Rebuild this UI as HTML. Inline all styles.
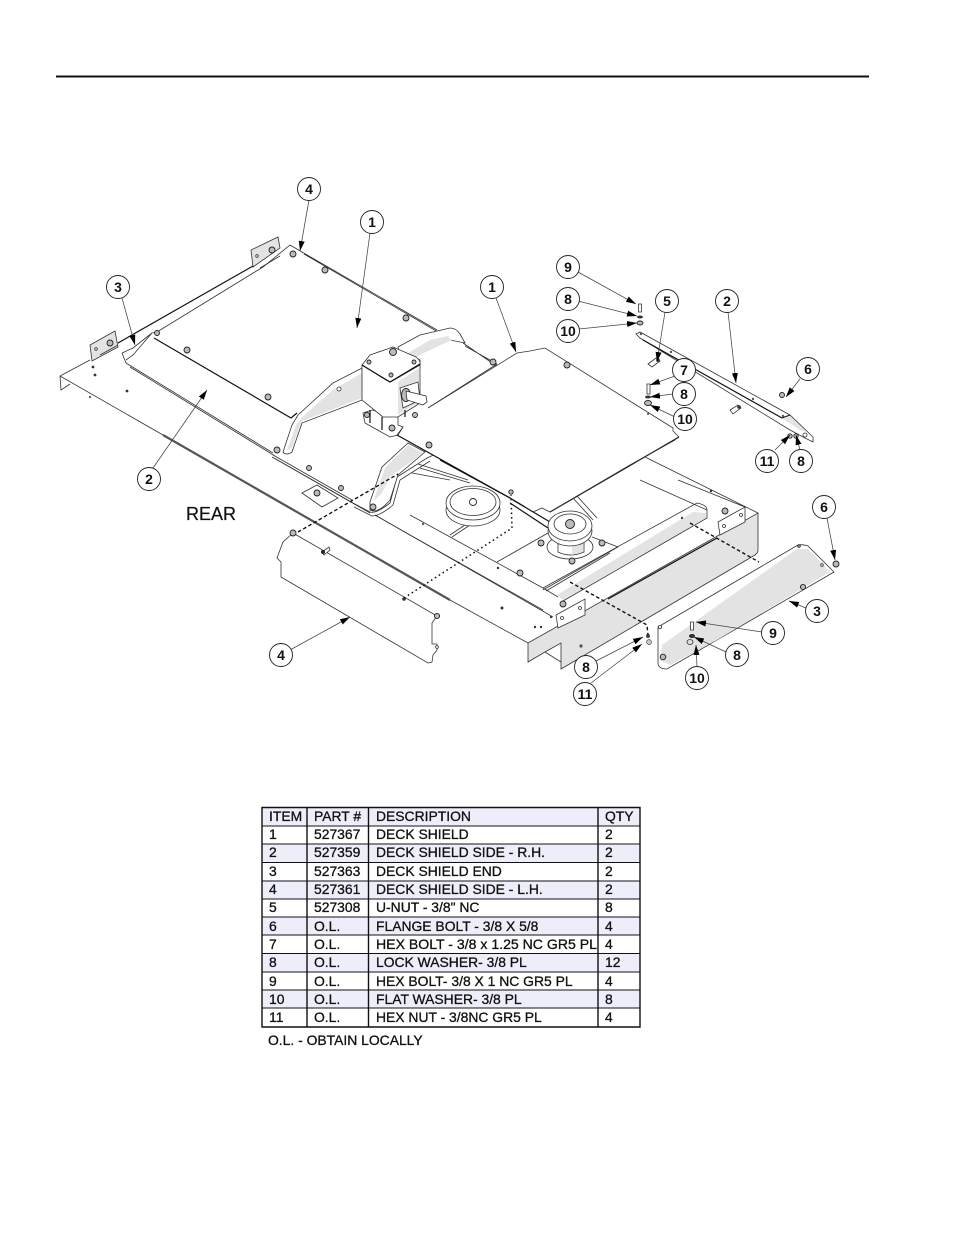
<!DOCTYPE html>
<html><head><meta charset="utf-8"><style>
html,body{margin:0;padding:0;background:#fff}
svg{display:block}
.l{fill:none;stroke:#333;stroke-width:.8}
.b{fill:none;stroke:#111;stroke-width:1.2}
.w{fill:#fff;stroke:#333;stroke-width:.8}
.g{fill:#e3e3e3;stroke:none}
.gl{fill:#e3e3e3;stroke:#333;stroke-width:.8}
.n{fill:#bbb;stroke:#222;stroke-width:.9}
.a{fill:none;stroke:#444;stroke-width:.75;marker-end:url(#ar)}
.d{fill:none;stroke:#111;stroke-width:1.4;stroke-dasharray:3.5 2.5}
.o{fill:none;stroke:#111;stroke-width:1.5;stroke-dasharray:1.6 3}
.c circle{fill:#fff;stroke:#222;stroke-width:.9}
.c text{font:bold 14px "Liberation Sans",sans-serif;text-anchor:middle;fill:#111}
.t text{font:13.9px "Liberation Sans",sans-serif;fill:#111;stroke:#111;stroke-width:.3}
</style></head><body>
<svg width="954" height="1235" viewBox="0 0 954 1235" xmlns="http://www.w3.org/2000/svg">
<defs><marker id="ar" markerWidth="11" markerHeight="7" refX="10" refY="3.5" orient="auto" markerUnits="userSpaceOnUse"><path d="M0 .5L10 3.5L0 6.5z" fill="#000"/></marker></defs>
<rect x="56" y="75.5" width="813" height="2" fill="#111"/>

<!-- deck base front -->
<path class="l" d="M60 376L61 390L70 384M60 376L90 360"/>
<path class="l" d="M60 376L163 435M450 600L528 643"/>
<path fill="none" stroke="#555" stroke-width="2.2" d="M163 435L450 600"/>
<path class="b" d="M118 343L253 266"/>
<path class="gl" d="M90 345L115 331L118 347L92 361Z"/>
<path class="gl" d="M251 250L278 237L280 248L253 267Z"/>
<circle class="n" cx="110" cy="343" r="3"/><circle class="n" cx="272" cy="250" r="3"/>
<circle class="w" cx="96" cy="349" r="1.3"/><circle class="w" cx="257" cy="256" r="1.3"/>
<path class="l" d="M100 355L118 345M260 268L280 256"/>
<path class="l" d="M126 363L273 453M130 367L275 456M122 353L126 363"/>
<path class="l" d="M122 353L133 348L152 333L133 355L126 360"/>
<path class="l" d="M152 333L157 332L263 267L290 245L302 252"/>
<path class="l" d="M302 252L437 330M304 254L438 332M463 343L498 367M465 346L497 364"/>
<path class="b" d="M154 338L291 418L297 413"/>
<path class="l" d="M497 364L428 408"/>

<!-- rail -->
<path class="l" d="M273 455L352 500M274 458L353 503M272 457L370 513M375 515L553 617"/>
<path class="l" d="M353 503L370 512Q376 514 390 503L397 477L427 458L440 452"/>
<path class="l" d="M354 507L372 516Q380 516 393 505L400 480L430 461"/>

<!-- arm upper -->
<path class="w" d="M283 452L292 425L298 415L333 383L362 368L362 400L302 423L292 452Q286 456 283 452Z"/>
<path class="g" d="M287 450L296 425L302 417L333 390L362 373L362 398L302 421L292 448Z"/>
<circle class="w" cx="339" cy="389" r="2"/>
<path class="w" d="M398 347L420 335L450 328Q456 328 460 334L465 343L450 340L424 352L402 364Z"/>
<path class="g" d="M405 355L430 340L448 336L452 340L425 352L410 362Z"/>

<!-- right panel -->
<path fill="#fff" d="M428 408L517 353L530 351L545 348L673 430L679 437L552 510L537 512L397 435Z"/>
<path class="l" d="M428 408L517 353L530 351L545 348L673 428L673 431L679 437"/>
<path class="b" d="M679 437L550 512"/>

<!-- gearbox -->
<path class="w" d="M363 413L365 423L390 437L398 435L403 427L398 425L398 417L372 410Z"/>
<path class="w" d="M362 365L362 400L383 417L398 417L420 403L420 360L393 347Z"/>
<path class="g" d="M398 382L419 368L419 402L398 415Z"/>
<path class="w" d="M362 365L370 355L393 347L416 357Q421 361 420 365L394 380Q390 383 386 380Z"/>
<path class="b" d="M362 365L390 382L420 364"/>
<path class="b" d="M370 410V423M382 417V430M405 410V417"/>
<circle class="n" cx="393" cy="352" r="3.5"/><circle class="n" cx="369" cy="362" r="2"/><circle class="n" cx="391" cy="375" r="2"/><circle class="n" cx="414" cy="362" r="2"/>
<circle class="n" cx="392" cy="428" r="3"/><circle class="n" cx="367" cy="415" r="2.5"/><circle class="n" cx="415" cy="415" r="2.5"/>
<path class="w" d="M400 388L418 382L420 400L403 408Z"/>
<ellipse class="n" cx="406" cy="395" rx="4.5" ry="6.5"/>
<path class="w" d="M406 391L426 396L427 402L423 405L407 400Z"/>

<!-- panel lower edge -->
<path class="b" d="M397 435L510 498L525 507"/>
<path class="l" d="M397 435L403 427"/>

<!-- nuts -->
<circle class="n" cx="567" cy="365" r="3"/><circle class="n" cx="429" cy="445" r="3"/><circle class="n" cx="493" cy="362" r="3"/>
<circle class="n" cx="325" cy="270" r="3"/><circle class="n" cx="406" cy="318" r="3"/><circle class="n" cx="187" cy="350" r="3"/><circle class="n" cx="268" cy="397" r="3"/><circle class="n" cx="157" cy="333" r="2.5"/><circle class="n" cx="293" cy="254" r="3"/><circle class="n" cx="277" cy="450" r="3"/>
<circle class="n" cx="309" cy="468" r="2.5"/><circle class="n" cx="341" cy="488" r="2.5"/>
<path class="w" d="M302 493L317 485L338 498L322 507Z"/><circle class="n" cx="317" cy="493" r="3"/>
<circle cx="93" cy="367" r="1.4" fill="#333"/><circle cx="127" cy="391" r="1.4" fill="#333"/><circle cx="95" cy="375" r="1.4" fill="#333"/><circle cx="90" cy="397" r="1.2" fill="#666"/>

<!-- lower arm -->
<path class="w" d="M370 502L382 467L408 443L425 452L398 475L390 500Q378 514 370 510Z"/>
<path class="g" d="M373 502L385 468L408 445L423 453L390 477L382 493Z"/>
<circle class="n" cx="373" cy="507" r="3"/>

<!-- interior lines -->
<path class="l" d="M420 468L470 483M418 464L468 480M412 473L450 480M375 515L410 535L543 610M410 515L543 588M450 535L468 523M452 537L470 525M497 562L548 533M592 537L618 547L543 590M630 465L675 440M645 457L758 513M640 480L707 510M678 480L745 507M573 498L593 520M577 496L597 518"/>
<path class="b" d="M440 460L510 498"/>
<path class="l" d="M533 512L542 508L550 512L630 465"/>

<!-- pulleys -->
<ellipse class="w" cx="473" cy="510" rx="27" ry="16"/>
<ellipse class="w" cx="473" cy="503" rx="27" ry="17"/>
<ellipse class="l" cx="473" cy="502" rx="23" ry="13.5"/>
<circle class="n" cx="473" cy="502" r="3.5" style="fill:#fff"/>
<path class="b" d="M510 503L548 528M513 500L550 522"/>
<ellipse class="w" cx="570" cy="547" rx="23" ry="12"/>
<path class="w" d="M558 535V552Q570 558 584 552V535Z"/>
<path class="g" d="M572 536H583V552L572 555Z"/>
<ellipse class="w" cx="570" cy="531" rx="22" ry="15"/>
<ellipse class="w" cx="570" cy="526" rx="22" ry="15"/>
<ellipse class="l" cx="570" cy="524" rx="16" ry="10"/>
<circle class="n" cx="570" cy="524" r="4.5"/>
<circle class="n" cx="541" cy="543" r="3"/><circle class="n" cx="602" cy="543" r="3"/><circle class="n" cx="572" cy="561" r="3"/><circle class="n" cx="520" cy="573" r="3"/>
<circle class="n" cx="511" cy="492" r="2.2"/>
<circle cx="423" cy="524" r="1" fill="#333"/><circle cx="498" cy="568" r="1.2" fill="#333"/><circle cx="502" cy="608" r="1.5" fill="#333"/><circle cx="535" cy="627" r="1.2" fill="#333"/><circle cx="541" cy="627" r="1.2" fill="#333"/><circle cx="551" cy="617" r="1.2" fill="#333"/><circle cx="711" cy="491" r="1.2" fill="#333"/>

<!-- roller -->
<path class="l" d="M543 588L697 503Q707 505 707 510V518L563 601M543 588L558 597"/>
<path class="l" d="M546 591L610 553"/>
<path class="g" d="M557 595L693 512L706 513L706 518L563 600Z"/>
<circle cx="682" cy="518" r="1.2" fill="#444"/>

<!-- right side of deck -->
<path class="gl" d="M528 643L758 513V550Q758 553 755 555L561 669V643L545 652L528 662Z"/>
<path class="l" d="M545 652L561 662"/>
<path class="b" d="M608 599L717 538"/>
<path class="w" d="M556 615L585 599L585 615L558 628Z"/><circle class="n" cx="563" cy="604" r="3"/><circle class="w" cx="562" cy="618" r="1.5"/><circle class="w" cx="580" cy="608" r="1.5"/>
<path class="w" d="M718 522L745 507L745 522L720 535Z"/><circle class="n" cx="725" cy="511" r="3"/><circle class="w" cx="724" cy="526" r="1.5"/><circle class="w" cx="741" cy="515" r="1.5"/>
<circle cx="581" cy="646" r="1.6" fill="#555"/>

<!-- end shield 3 -->
<path class="w" d="M658 627L798 545Q803 544 808 546L834 572L667 669Q658 669 658 663Z"/>
<path class="g" d="M662 645L797 549L808 549L830 572L813 582L717 640L670 665L660 660Z"/>
<circle class="w" cx="660" cy="627" r="1.6"/><circle class="n" cx="663" cy="657" r="2.8"/><circle class="n" cx="799" cy="546" r="1.3"/><circle class="w" cx="822" cy="565" r="1.3"/><circle class="n" cx="803" cy="587" r="2.6"/>
<circle class="n" cx="836" cy="564" r="3"/>
<path class="w" d="M690.500 622h3v8h-3z"/><ellipse class="n" cx="692" cy="636" rx="2.5" ry="1.6" style="fill:#333"/><ellipse class="w" cx="690" cy="642" rx="3" ry="2.5" style="fill:#ddd"/>
<circle cx="648" cy="636" r="2" fill="#444"/><circle cx="649" cy="642" r="2.4" fill="#ccc" stroke="#444" stroke-width=".7"/>

<!-- side shield 4 -->
<path class="w" d="M293 533L283 542L277 558L281 562V577L428 663L432 662L433 655L437 650L437 644L432 644L432 623L437 616Z"/>
<circle class="n" cx="293" cy="533" r="3"/><circle class="n" cx="437" cy="616" r="2.6"/><circle class="w" cx="437" cy="647" r="1.4"/>
<path class="w" d="M322 552L329 547L330 550L324 555Z"/><circle cx="323" cy="552" r="2" fill="#222"/><circle cx="404" cy="599" r="1.8" fill="#333"/>

<!-- dashed -->
<path class="d" d="M298 532L398 474"/>
<path class="o" d="M404 598L512 528L511 495"/>
<path class="d" d="M690 523L759 562"/>
<path class="d" d="M570 582L647 625L648 635"/>

<!-- right rail 2 -->
<path class="w" d="M636 334L640 332L790 415L813 437L813 442L805 438L790 430L640 338Z"/>
<path class="g" d="M783 419L790 416L807 432L800 430Z"/>
<path class="b" d="M643 340L782 418L790 415"/>
<circle cx="641" cy="334" r="1.2" fill="#555"/><circle cx="671" cy="352" r="1.2" fill="#555"/><circle cx="753" cy="399" r="1.2" fill="#555"/><circle cx="783" cy="416" r="1.2" fill="#555"/><circle class="w" cx="805" cy="435" r="2"/>
<path class="w" d="M648 364L656 358L660 361L652 367Z"/><circle cx="658" cy="360" r="1.8" fill="#333"/><path class="w" d="M730 410L738 405L741 408L733 414Z"/><circle cx="739" cy="407" r="1.8" fill="#333"/>
<path class="w" d="M638.500 304h3v8h-3z"/><ellipse cx="640" cy="317" rx="3" ry="1.5" fill="#333"/><ellipse class="n" cx="640" cy="323" rx="3" ry="2"/>
<path class="w" d="M647 384h3v10h-3z"/><ellipse cx="648" cy="397" rx="3" ry="1.5" fill="#333"/><ellipse class="n" cx="648" cy="403" rx="3.5" ry="2.5"/><circle cx="648" cy="414" r="1" fill="#444"/>
<circle class="n" cx="782" cy="395" r="2.5"/><circle class="n" cx="790" cy="436" r="2.2"/><circle class="n" cx="796" cy="436" r="2.2"/>

<!-- leaders -->
<path class="a" d="M309 200L300 251"/><path class="a" d="M370 233L357 328"/><path class="a" d="M122 298L135 345"/><path class="a" d="M496 298L516 352"/><path class="a" d="M153 468L207 390"/>
<path class="a" d="M578 272L636 304"/><path class="a" d="M578 301L637 316"/><path class="a" d="M579 329L637 323"/><path class="a" d="M665 312L657 362"/><path class="a" d="M728 312L736 383"/>
<path class="a" d="M675 376L650 385"/><path class="a" d="M673 394L650 397"/><path class="a" d="M675 417L650 405"/><path class="a" d="M800 379L786 397"/><path class="a" d="M775 450L790 435"/><path class="a" d="M800 450L796 435"/>
<path class="a" d="M827 518L835 560"/><path class="a" d="M806 608L789 601"/><path class="a" d="M762 632L696 622"/><path class="a" d="M726 652L694 637"/><path class="a" d="M697 667L696 645"/><path class="a" d="M290 650L350 617"/><path class="a" d="M596 661L643 637"/><path class="a" d="M591 683L642 644"/>

<!-- callouts -->
<g class="c">
<circle cx="309" cy="189" r="11.500"/><text x="309" y="194">4</text>
<circle cx="372" cy="222" r="11.500"/><text x="372" y="227">1</text>
<circle cx="118" cy="287" r="11.500"/><text x="118" y="292">3</text>
<circle cx="492" cy="287" r="11.500"/><text x="492" y="292">1</text>
<circle cx="568" cy="267" r="11.500"/><text x="568" y="272">9</text>
<circle cx="568" cy="299" r="11.500"/><text x="568" y="304">8</text>
<circle cx="568" cy="331" r="11.500"/><text x="568" y="336">10</text>
<circle cx="667" cy="301" r="11.500"/><text x="667" y="306">5</text>
<circle cx="727" cy="301" r="11.500"/><text x="727" y="306">2</text>
<circle cx="684" cy="370" r="11.500"/><text x="684" y="375">7</text>
<circle cx="684" cy="394" r="11.500"/><text x="684" y="399">8</text>
<circle cx="685" cy="419" r="11.500"/><text x="685" y="424">10</text>
<circle cx="808" cy="369" r="11.500"/><text x="808" y="374">6</text>
<circle cx="767" cy="461" r="11.500"/><text x="767" y="466">11</text>
<circle cx="801" cy="461" r="11.500"/><text x="801" y="466">8</text>
<circle cx="149" cy="479" r="11.500"/><text x="149" y="484">2</text>
<circle cx="824" cy="507" r="11.500"/><text x="824" y="512">6</text>
<circle cx="817" cy="611" r="11.500"/><text x="817" y="616">3</text>
<circle cx="773" cy="633" r="11.500"/><text x="773" y="638">9</text>
<circle cx="737" cy="655" r="11.500"/><text x="737" y="660">8</text>
<circle cx="697" cy="678" r="11.500"/><text x="697" y="683">10</text>
<circle cx="281" cy="655" r="11.500"/><text x="281" y="660">4</text>
<circle cx="586" cy="667" r="11.500"/><text x="586" y="672">8</text>
<circle cx="585" cy="694" r="11.500"/><text x="585" y="699">11</text>
</g>
<text x="186" y="520" font-family="Liberation Sans, sans-serif" font-size="18" fill="#111" stroke="#111" stroke-width=".2">REAR</text>

<!-- table -->
<g fill="#eeeefa">
<rect x="262" y="808" width="378" height="18"/><rect x="262" y="844" width="378" height="18"/><rect x="262" y="881" width="378" height="18"/><rect x="262" y="917" width="378" height="18"/><rect x="262" y="953" width="378" height="19"/><rect x="262" y="990" width="378" height="18"/>
</g>
<path d="M262 807.500H640V1027H262Z M307 808V1027M368.500 808V1027M598 808V1027" fill="none" stroke="#111" stroke-width="1.4"/>
<path d="M262 826H640M262 844H640M262 862.500H640M262 881H640M262 899H640M262 917H640M262 935H640M262 953.500H640M262 972H640M262 990H640M262 1008H640" fill="none" stroke="#111" stroke-width="1.1"/>
<g class="t">
<text x="269" y="821">ITEM</text><text x="314" y="821">PART #</text><text x="376" y="821">DESCRIPTION</text><text x="605" y="821">QTY</text>
<text x="269" y="839">1</text><text x="314" y="839">527367</text><text x="376" y="839">DECK SHIELD</text><text x="605" y="839">2</text>
<text x="269" y="857">2</text><text x="314" y="857">527359</text><text x="376" y="857">DECK SHIELD SIDE - R.H.</text><text x="605" y="857">2</text>
<text x="269" y="876">3</text><text x="314" y="876">527363</text><text x="376" y="876">DECK SHIELD END</text><text x="605" y="876">2</text>
<text x="269" y="894">4</text><text x="314" y="894">527361</text><text x="376" y="894">DECK SHIELD SIDE - L.H.</text><text x="605" y="894">2</text>
<text x="269" y="912">5</text><text x="314" y="912">527308</text><text x="376" y="912">U-NUT - 3/8" NC</text><text x="605" y="912">8</text>
<text x="269" y="931">6</text><text x="314" y="931">O.L.</text><text x="376" y="931">FLANGE BOLT - 3/8 X 5/8</text><text x="605" y="931">4</text>
<text x="269" y="949">7</text><text x="314" y="949">O.L.</text><text x="376" y="949" textLength="221" lengthAdjust="spacingAndGlyphs">HEX BOLT - 3/8 x 1.25 NC GR5 PL</text><text x="605" y="949">4</text>
<text x="269" y="967">8</text><text x="314" y="967">O.L.</text><text x="376" y="967">LOCK WASHER- 3/8 PL</text><text x="605" y="967">12</text>
<text x="269" y="986">9</text><text x="314" y="986">O.L.</text><text x="376" y="986">HEX BOLT- 3/8 X 1 NC GR5 PL</text><text x="605" y="986">4</text>
<text x="269" y="1004">10</text><text x="314" y="1004">O.L.</text><text x="376" y="1004">FLAT WASHER- 3/8 PL</text><text x="605" y="1004">8</text>
<text x="269" y="1022">11</text><text x="314" y="1022">O.L.</text><text x="376" y="1022">HEX NUT - 3/8NC GR5 PL</text><text x="605" y="1022">4</text>
<text x="268" y="1045">O.L. - OBTAIN LOCALLY</text>
</g>
</svg>
</body></html>
